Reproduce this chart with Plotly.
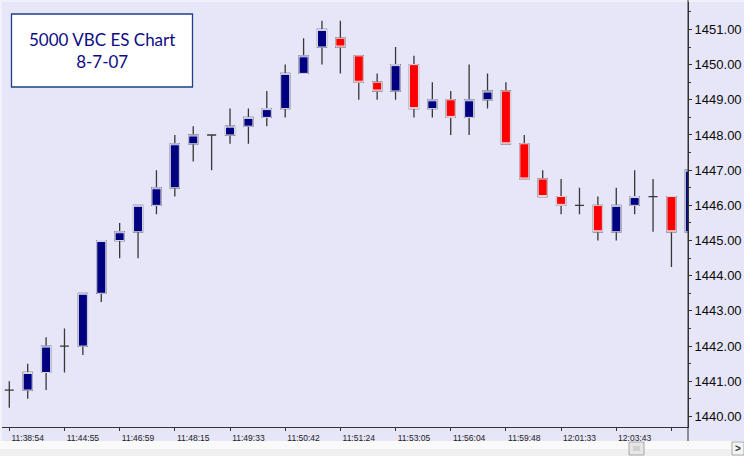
import plotly.graph_objects as go

# ---------------- data ----------------
times = ["11:38:54", "11:44:55", "11:46:59", "11:48:15", "11:49:33", "11:50:42",
         "11:51:24", "11:53:05", "11:56:04", "11:59:48", "12:01:33", "12:03:43"]

open_ = [1440.75, 1440.75, 1441.25, 1442.00, 1442.00, 1443.50, 1445.00, 1445.25,
         1446.00, 1446.50, 1447.75, 1448.00, 1448.00, 1448.25, 1448.50, 1448.75,
         1449.75, 1450.50, 1450.75, 1450.25, 1449.50, 1449.25, 1450.00, 1448.75,
         1449.00, 1448.50, 1449.00, 1449.25, 1447.75, 1446.75, 1446.25, 1446.00,
         1446.00, 1445.25, 1446.00, 1446.25, 1446.25, 1445.25]
high = [1441.00, 1441.50, 1442.25, 1442.50, 1443.50, 1445.00, 1445.50, 1446.00,
        1447.00, 1448.00, 1448.25, 1448.00, 1448.75, 1448.75, 1449.25, 1450.00,
        1450.75, 1451.25, 1451.25, 1450.25, 1449.75, 1450.50, 1450.25, 1449.50,
        1449.25, 1450.00, 1449.75, 1449.50, 1448.00, 1447.00, 1446.75, 1446.50,
        1446.25, 1446.50, 1447.00, 1446.75, 1446.25, 1447.00]
low = [1440.25, 1440.50, 1440.75, 1441.25, 1441.75, 1443.25, 1444.50, 1444.50,
       1445.75, 1446.25, 1447.25, 1447.00, 1447.75, 1447.75, 1448.25, 1448.50,
       1449.75, 1450.00, 1449.75, 1449.00, 1449.00, 1449.00, 1448.50, 1448.50,
       1448.00, 1448.00, 1448.75, 1447.75, 1446.75, 1446.25, 1445.75, 1445.75,
       1445.00, 1445.00, 1445.75, 1445.25, 1444.25, 1445.25]
close = [1440.75, 1441.25, 1442.00, 1442.00, 1443.50, 1445.00, 1445.25, 1446.00,
         1446.50, 1447.75, 1448.00, 1448.00, 1448.25, 1448.50, 1448.75, 1449.75,
         1450.25, 1451.00, 1450.50, 1449.50, 1449.25, 1450.00, 1448.75, 1449.00,
         1448.50, 1449.00, 1449.25, 1447.75, 1446.75, 1446.25, 1446.00, 1446.00,
         1445.25, 1446.00, 1446.25, 1446.25, 1445.25, 1447.00]

idx = list(range(len(open_)))
label_pos = [1 + 3 * k for k in range(len(times))]
tick_pos = [3 * k for k in range(13)]

WICK = "#383838"
UP = "#000080"
DOWN = "#FF0000"
BG = "#E6E6F8"
HALO = "#F2F2FE"

fig = go.Figure()
# wicks and doji crosses
fig.add_trace(go.Candlestick(
    x=idx, open=open_, high=high, low=low, close=close,
    increasing=dict(line=dict(color=WICK, width=1.3), fillcolor=WICK),
    decreasing=dict(line=dict(color=WICK, width=1.3), fillcolor=WICK),
    whiskerwidth=0, showlegend=False, hoverinfo="skip"))
# coloured bodies
body = [i for i in idx if open_[i] != close[i]]
bo = [open_[i] for i in body]
bc = [close[i] for i in body]
fig.add_trace(go.Candlestick(
    x=body, open=bo, close=bc,
    high=[max(o, c) for o, c in zip(bo, bc)],
    low=[min(o, c) for o, c in zip(bo, bc)],
    increasing=dict(line=dict(color=HALO, width=0.9), fillcolor=UP),
    decreasing=dict(line=dict(color=HALO, width=0.9), fillcolor=DOWN),
    whiskerwidth=0, showlegend=False, hoverinfo="skip"))

W, H = 744, 456
L, R, T, B = 2, 56, 2, 29
pw, ph = W - L - R, H - T - B


def px(x):
    return (x - L) / pw


def py(y):
    return (H - B - y) / ph


shapes = [
    # light top / left border strips
    dict(type="rect", xref="paper", yref="paper", x0=px(0), x1=px(W), y0=py(0), y1=py(2),
         fillcolor="#F1F1FB", line=dict(width=0), layer="below"),
    dict(type="rect", xref="paper", yref="paper", x0=px(0), x1=px(2), y0=py(441), y1=py(0),
         fillcolor="#F1F1FB", line=dict(width=0), layer="below"),
    # scrollbar strip
    dict(type="rect", xref="paper", yref="paper", x0=px(0), x1=px(W), y0=py(449), y1=py(441),
         fillcolor="#FAFAFA", line=dict(width=0)),
    dict(type="rect", xref="paper", yref="paper", x0=px(0), x1=px(W), y0=py(456), y1=py(449),
         fillcolor="#F0F0F0", line=dict(width=0)),
    # scroll thumb
    dict(type="rect", xref="paper", yref="paper", x0=px(629), x1=px(644), y0=py(455), y1=py(442),
         fillcolor="#E6E6E6", line=dict(color="#A8A8A8", width=1)),
    dict(type="rect", xref="paper", yref="paper", x0=px(633), x1=px(640), y0=py(451), y1=py(446),
         fillcolor="#D0D0D0", line=dict(width=0)),
    # right arrow button
    dict(type="rect", xref="paper", yref="paper", x0=px(732), x1=px(744), y0=py(455), y1=py(442),
         fillcolor="#F4F4F4", line=dict(color="#A8A8A8", width=1)),
    # y axis line extension
    dict(type="line", xref="paper", yref="paper", x0=1, x1=1, y0=py(441), y1=py(0),
         line=dict(color="#333333", width=1)),
    # title box
    dict(type="rect", xref="paper", yref="paper", x0=px(11.5), x1=px(192.5), y0=py(87), y1=py(14),
         fillcolor="white", line=dict(color="#1F3F86", width=1.3)),
]

annotations = [
    dict(xref="paper", yref="paper", x=px(102), y=py(50.5), xanchor="center", yanchor="middle",
         text="5000 VBC ES Chart<br>8-7-07", showarrow=False, align="center",
         font=dict(family="Lato", size=17, color="#0C0C84")),
    dict(xref="paper", yref="paper", x=px(738), y=py(448.5), xanchor="center", yanchor="middle",
         text="<b>&gt;</b>", showarrow=False, font=dict(family="Liberation Sans", size=10, color="#333")),
]

fig.update_layout(
    width=W, height=H,
    margin=dict(l=L, r=R, t=T, b=B),
    paper_bgcolor=BG, plot_bgcolor=BG,
    showlegend=False,
    boxgap=0.3, boxgroupgap=0.3,
    shapes=shapes, annotations=annotations,
    xaxis=dict(
        range=[-0.397, 36.90], rangeslider=dict(visible=False),
        showgrid=False, zeroline=False, automargin=False,
        tickmode="array", tickvals=label_pos, ticktext=times,
        ticks="outside", ticklen=3, tickcolor="rgba(0,0,0,0)",
        minor=dict(tickmode="array", tickvals=tick_pos, ticks="outside", ticklen=3,
                   tickcolor="#333333", tickwidth=1, showgrid=False),
        showline=True, linecolor="#333333", linewidth=1,
        tickfont=dict(family="Liberation Sans", size=8.5, color="#222222"),
    ),
    yaxis=dict(
        side="right", range=[1439.70, 1451.78],
        showgrid=False, zeroline=False, automargin=False,
        tick0=1440, dtick=1, tickformat=".2f",
        ticks="outside", ticklen=3, tickcolor="#333333",
        minor=dict(dtick=0.5, ticks="outside", ticklen=2, tickcolor="#333333", showgrid=False),
        showline=True, linecolor="#333333", linewidth=1,
        tickfont=dict(family="Liberation Sans", size=13, color="#0A0A0A"),
    ),
)

fig.write_html(
    "out.html",
    config={"displayModeBar": False},
    post_script="document.body.style.margin='0';document.body.style.overflow='hidden';",
)
